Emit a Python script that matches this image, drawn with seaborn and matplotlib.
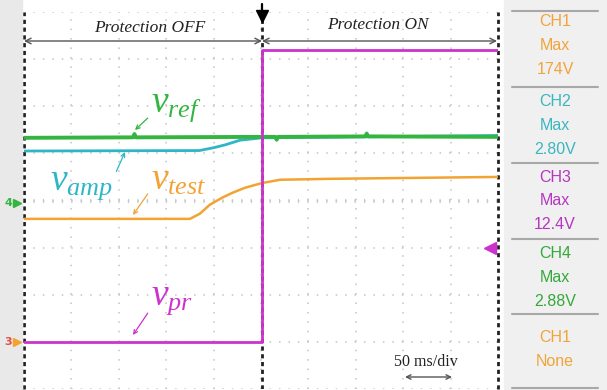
# scope capture: protection OFF / ON

import numpy as np
import matplotlib
matplotlib.use('Agg')
import matplotlib.pyplot as plt
import seaborn as sns

sns.set_style('white')
plt.rcParams['font.family'] = ['Liberation Serif', 'DejaVu Serif']
plt.rcParams['mathtext.fontset'] = 'custom'
plt.rcParams['mathtext.it'] = 'Liberation Serif:italic'
plt.rcParams['mathtext.rm'] = 'Liberation Serif'
plt.rcParams['lines.scale_dashes'] = False

# traces: time in divisions (50 ms/div), level in divisions
t_pr = [0, 5.02, 5.02, 10]
v_pr = [1.0, 1.0, 7.2, 7.2]

t_ref = [0, 2.3, 2.33, 2.36, 5.0, 5.3, 5.33, 5.36, 7.2, 7.23, 7.26, 10]
v_ref = [5.33, 5.34, 5.41, 5.34, 5.35, 5.35, 5.29, 5.35, 5.36, 5.42, 5.36, 5.35]

t_amp = [0, 3.7, 4.0, 4.24, 4.56, 5.02, 10]
v_amp = [5.05, 5.06, 5.12, 5.18, 5.28, 5.33, 5.38]

t_test = [0, 3.50, 3.71, 3.92, 4.18, 4.39, 4.66, 5.02, 5.40, 6.46, 10]
v_test = [3.61, 3.61, 3.72, 3.91, 4.06, 4.16, 4.27, 4.37, 4.44, 4.46, 4.50]

ch_names = ['CH1', 'CH2', 'CH3', 'CH4', 'CH1']
ch_stat = ['Max', 'Max', 'Max', 'Max', 'None']
ch_vals = ['174V', '2.80V', '12.4V', '2.88V', '']

c_orange = '#f2a332'
c_cyan = '#2fb6c6'
c_mag = '#cc33cc'
c_green = '#33b540'
panel_cols = ['#f0a43a', '#3bb6bf', '#b536c0', '#35a83a', '#f0a43a']

W, H = 607, 390
fig = plt.figure(figsize=(W / 100, H / 100), dpi=100)


def P(x, y):
    return (x / W, 1 - y / H)


# gray side strips
fig.patches.append(plt.Rectangle(P(0, H), 22 / W, 1, transform=fig.transFigure,
                                 color='#e9e9e9', zorder=0))
fig.patches.append(plt.Rectangle(P(504, H), (W - 504) / W, 1, transform=fig.transFigure,
                                 color='#f0f0f0', zorder=0))

x0, x1, ytop, ybot = 24, 498, 12, 389
ax = fig.add_axes([x0 / W, 1 - ybot / H, (x1 - x0) / W, (ybot - ytop) / H])
ax.set_xlim(0, 10)
ax.set_ylim(0, 8)
ax.set_facecolor('white')
for s in ax.spines.values():
    s.set_visible(False)
ax.set_xticks([])
ax.set_yticks([])

# graticule
for i in range(1, 10):
    ax.axvline(i, color='#c4c4c4', lw=1.1, ls=(0, (1.1, 5.7)), zorder=1)
for j in range(0, 9):
    ax.axhline(j, color='#c4c4c4', lw=1.1, ls=(0, (1.1, 5.7)), zorder=1)
ax.axhline(4, color='#c8c8c8', lw=3.0, ls=(0, (0.8, 6.0)), zorder=1)

# frame and trigger position
for xv in [0, 10]:
    ax.axvline(xv, color='#222222', lw=2.0, ls=(0, (3.0, 2.6)), zorder=2, clip_on=False)
ax.axvline(5.02, color='#222222', lw=2.0, ls=(0, (3.0, 2.6)), zorder=2)

# traces
sns.lineplot(x=t_amp, y=v_amp, ax=ax, color=c_cyan, lw=2.0, estimator=None, sort=False, zorder=4)
sns.lineplot(x=t_ref, y=v_ref, ax=ax, color=c_green, lw=2.8, estimator=None, sort=False, zorder=5)
sns.lineplot(x=t_test, y=v_test, ax=ax, color=c_orange, lw=1.8, estimator=None, sort=False, zorder=4)
sns.lineplot(x=t_pr, y=v_pr, ax=ax, color=c_mag, lw=2.0, estimator=None, sort=False, zorder=6)

# labels on the traces
lab = dict(xycoords='figure fraction', textcoords='figure fraction', fontsize=27)


def pointer(col, rel):
    return dict(arrowstyle='->', color=col, lw=0.9, shrinkA=0, shrinkB=0,
                mutation_scale=7, relpos=rel)


ax.annotate(r'$v_{ref}$', xy=P(135, 130), xytext=P(151, 112), color=c_green, ha='left',
            va='baseline', arrowprops=pointer(c_green, (0.02, 0.3)), **lab)
ax.annotate(r'$v_{amp}$', xy=P(125, 152), xytext=P(50, 190), color=c_cyan, ha='left',
            va='baseline', arrowprops=pointer(c_cyan, (0.98, 0.6)), **lab)
ax.annotate(r'$v_{test}$', xy=P(133, 215), xytext=P(151, 190), color=c_orange, ha='left',
            va='baseline', arrowprops=pointer(c_orange, (0.02, 0.3)), **lab)
ax.annotate(r'$v_{pr}$', xy=P(133, 335), xytext=P(151, 305), color=c_mag, ha='left',
            va='baseline', arrowprops=pointer(c_mag, (0.02, 0.3)), **lab)

# protection OFF / ON spans
arr = dict(arrowstyle='<->', color='#555555', lw=1.0, shrinkA=0, shrinkB=0)
fig.add_artist(matplotlib.patches.FancyArrowPatch(P(24, 41), P(262, 41), transform=fig.transFigure,
                                                  mutation_scale=10, **arr))
fig.add_artist(matplotlib.patches.FancyArrowPatch(P(262, 41), P(497, 41), transform=fig.transFigure,
                                                  mutation_scale=10, **arr))
fig.text(*P(150, 28), 'Protection OFF', style='italic', fontsize=12.5, color='#222222',
         ha='center', va='center')
fig.text(*P(378, 25), 'Protection ON', style='italic', fontsize=12.5, color='#222222',
         ha='center', va='center')

# trigger marker
fig.add_artist(matplotlib.lines.Line2D([262 / W, 262 / W], [1 - 4 / H, 1 - 16 / H], color='black', lw=1.6))
fig.add_artist(matplotlib.lines.Line2D([262 / W], [1 - 16 / H], marker='v', ms=8, color='black', lw=0))

# time base
fig.text(*P(426, 362), '50 ms/div', fontsize=11.5, color='#222222', ha='center', va='center')
fig.add_artist(matplotlib.patches.FancyArrowPatch(P(405, 377), P(452, 377), transform=fig.transFigure,
                                                  mutation_scale=8, **arr))

# channel ground markers
fig.text(*P(8, 203), '4', fontsize=8, color=c_green, ha='center', va='center', family='DejaVu Sans',
         weight='bold')
fig.add_artist(matplotlib.lines.Line2D([17 / W], [1 - 203 / H], marker='>', ms=6, color=c_green, lw=0))
fig.text(*P(8, 342), '3', fontsize=8, color='#e0504a', ha='center', va='center', family='DejaVu Sans',
         weight='bold')
fig.add_artist(matplotlib.lines.Line2D([17 / W], [1 - 342 / H], marker='>', ms=6, color=c_orange, lw=0))
fig.add_artist(matplotlib.lines.Line2D([490 / W], [1 - 248 / H], marker='<', ms=9, color=c_mag, lw=0))

# right hand measurement panel
sep_y = [11, 87, 163, 239, 314, 388]
for y in sep_y:
    fig.add_artist(matplotlib.lines.Line2D([512 / W, 598 / W], [1 - y / H, 1 - y / H],
                                           color='#a8a8a8', lw=1.5))
rows = [(22, 46, 69), (101, 125, 149), (178, 201, 225), (254, 278, 302), (338, 362, None)]
pfont = ['Liberation Sans Narrow', 'Liberation Sans', 'DejaVu Sans']
for name, stat, val, col, (ya, yb, yc) in zip(ch_names, ch_stat, ch_vals, panel_cols, rows):
    fig.text(*P(555, ya), name, color=col, fontsize=11.5, ha='center', va='center', family=pfont)
    fig.text(*P(555, yb), stat, color=col, fontsize=11.5, ha='center', va='center', family=pfont)
    if val:
        fig.text(*P(555, yc), val, color=col, fontsize=11.5, ha='center', va='center', family=pfont)

fig.savefig('out.png', dpi=100)
